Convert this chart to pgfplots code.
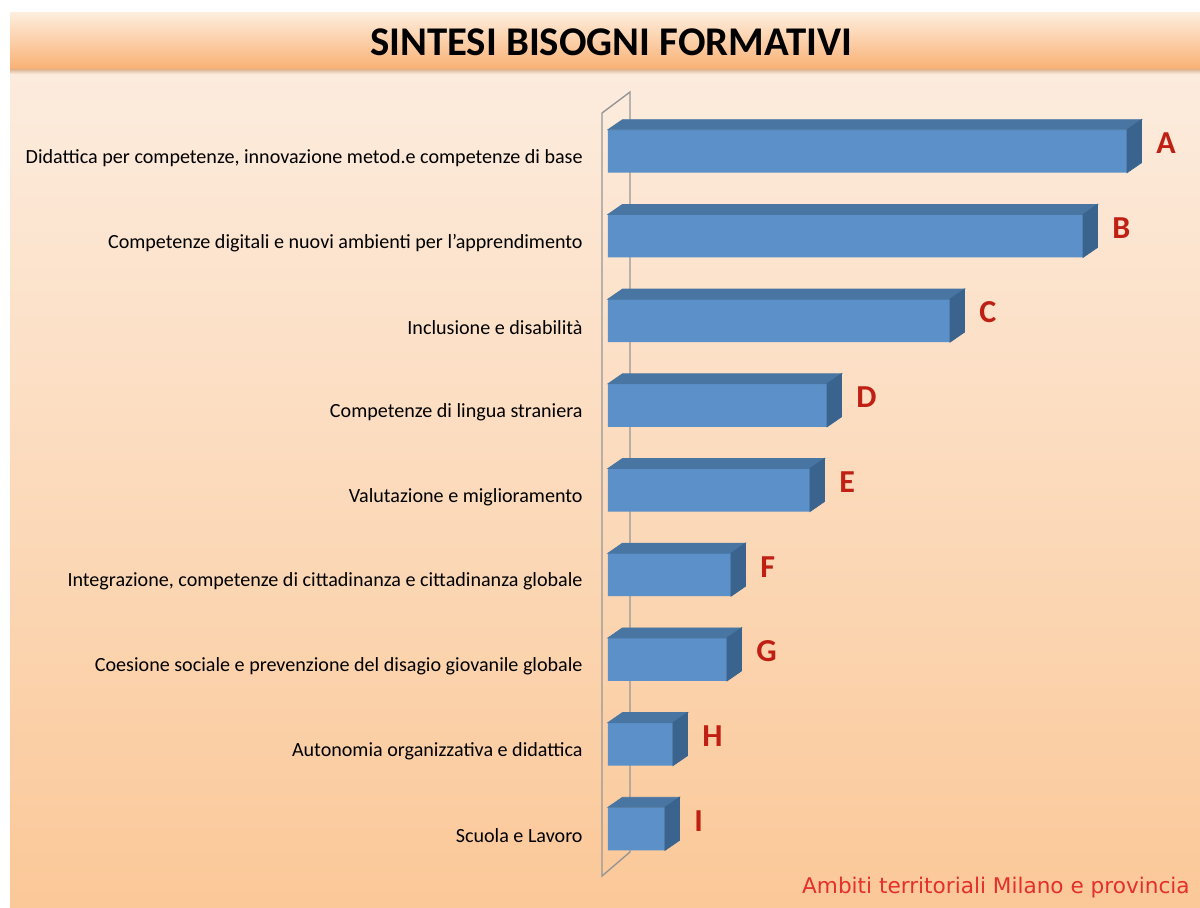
\documentclass[border=0pt]{standalone}
\usepackage{pgfplots}
\pgfplotsset{compat=1.18}
\usepackage{pgfplotstable}
\usepackage{fontspec}
\setmainfont{Carlito}
\newfontfamily\footfont{DejaVu Sans}
\definecolor{barfront}{RGB}{92,144,200}
\definecolor{bartop}{RGB}{72,117,162}
\definecolor{barside}{RGB}{58,100,142}
\definecolor{letterred}{RGB}{192,32,20}
\definecolor{footred}{RGB}{228,48,42}
\definecolor{bgtop}{RGB}{252,236,222}
\definecolor{bgbot}{RGB}{251,200,152}
\definecolor{bantop}{RGB}{254,238,222}
\definecolor{banbot}{RGB}{249,178,118}
\definecolor{wallgray}{RGB}{150,150,150}

\pgfplotstableread{
idx val letter
0 519 A
1 475 B
2 342 C
3 219 D
4 202 E
5 123 F
6 119 G
7 65 H
8 57 I
}\datatable

\begin{document}
\begin{tikzpicture}[x=0.5pt,y=-0.5pt]
\useasboundingbox (0,0) rectangle (1200,907);
\fill[white] (0,0) rectangle (1200,907);
\shade[top color=bgtop, bottom color=bgbot] (10,70) rectangle (1200,907);
% banner shadow
\shade[top color=banbot!80!black, bottom color=bgtop] (10,66) rectangle (1200,74);
\shade[top color=bantop, bottom color=banbot] (10,12) rectangle (1200,68);
\node[font=\fontsize{20.4}{21}\selectfont\bfseries] at (611,42) {SINTESI BISOGNI FORMATIVI};
% back wall
\draw[wallgray, line width=0.7pt] (602,113) -- (630,92) -- (630,852) -- (602,876) -- cycle;

\begin{axis}[
  at={(608,128.5)}, anchor=north west,
  x=0.5pt, y=42.35pt, y dir=reverse,
  xmin=0, xmax=600, ymin=-0.5, ymax=8.5,
  clip=false,
  axis line style={draw=none},
  tick style={draw=none}, major tick length=0pt,
  xtick=\empty,
  ytick={0,...,8},
  yticklabels={
    {Didattica per competenze, innovazione metod.e competenze di base},
    {Competenze digitali e nuovi ambienti per l’apprendimento},
    {Inclusione e disabilità},
    {Competenze di lingua straniera},
    {Valutazione e miglioramento},
    {Integrazione, competenze di cittadinanza e cittadinanza globale},
    {Coesione sociale e prevenzione del disagio giovanile globale},
    {Autonomia organizzativa e didattica},
    {Scuola e Lavoro}},
  yticklabel style={font=\fontsize{10.05}{11}\selectfont, inner sep=0pt, xshift=-12.5pt, yshift=-3.5pt},
]
\addplot[xbar, bar width=21.5pt, bar shift=0pt, fill=barfront, draw=none,
  point meta=explicit symbolic,
  nodes near coords,
  every node near coord/.append style={anchor=west, inner sep=0pt, xshift=14.5pt, yshift=4pt,
     font=\fontsize{16}{16}\selectfont\bfseries, text=letterred},
] table[x=val, y=idx, meta=letter] {\datatable};
\addplot[only marks, scatter, mark=text, text mark={},
  visualization depends on={\thisrow{val} \as \barval},
  scatter/@pre marker code/.code={
    \fill[bartop] (-\barval*0.5pt, 10.75pt) -- (0pt,10.75pt) -- (7.25pt,15.75pt) -- ({-\barval*0.5pt+7.25pt},15.75pt) -- cycle;
    \fill[barside] (0pt,-10.75pt) -- (0pt,10.75pt) -- (7.25pt,15.75pt) -- (7.25pt,-5.75pt) -- cycle;
  },
  scatter/@post marker code/.code={},
] table[x=val, y=idx] {\datatable};
\end{axis}

\node[anchor=base east, inner sep=0pt, font=\footfont\fontsize{10.8}{11}\selectfont, text=footred] at (1190,893) {Ambiti territoriali Milano e provincia};
\end{tikzpicture}
\end{document}
